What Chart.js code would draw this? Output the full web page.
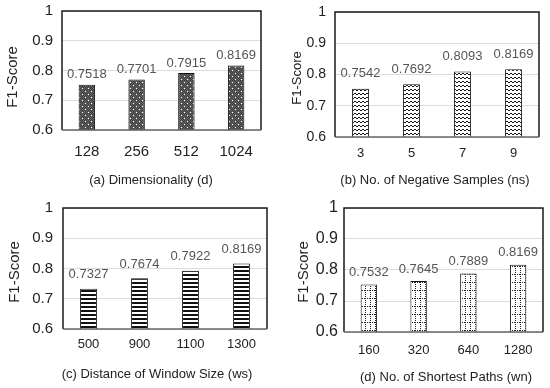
<!DOCTYPE html>
<html>
<head>
<meta charset="utf-8">
<script src="https://cdn.jsdelivr.net/npm/chart.js@4.4.1/dist/chart.umd.min.js"></script>
<style>
  body { margin: 0; background: #fff; }
  #wrap { position: relative; width: 550px; height: 388px; overflow: hidden; }
  canvas { position: absolute; }
</style>
</head>
<body>
<div id="wrap">
  <canvas id="chartA" width="275" height="194" style="left:0;top:0"></canvas>
  <canvas id="chartB" width="275" height="194" style="left:275px;top:0"></canvas>
  <canvas id="chartC" width="275" height="194" style="left:0;top:194px"></canvas>
  <canvas id="chartD" width="275" height="194" style="left:275px;top:194px"></canvas>
</div>
<script>
// data
const dimLabels = ['128', '256', '512', '1024'];
const dimScores = [0.7518, 0.7701, 0.7915, 0.8169];

const negLabels = ['3', '5', '7', '9'];
const negScores = [0.7542, 0.7692, 0.8093, 0.8169];

const winLabels = ['500', '900', '1100', '1300'];
const winScores = [0.7327, 0.7674, 0.7922, 0.8169];

const pathLabels = ['160', '320', '640', '1280'];
const pathScores = [0.7532, 0.7645, 0.7889, 0.8169];

const yTicks = [0.6, 0.7, 0.8, 0.9, 1];

const FONT = '"Liberation Sans", Arial, Helvetica, sans-serif';

// bar fill patterns
function makePattern(w, h, paint) {
  const c = document.createElement('canvas');
  c.width = w; c.height = h;
  const g = c.getContext('2d');
  paint(g);
  return g.createPattern(c, 'repeat');
}

const dotsFill = makePattern(6, 6, g => {
  g.fillStyle = '#666'; g.fillRect(0, 0, 6, 6);
  g.fillStyle = '#3c3c3c';
  for (let y = 0; y < 6; y++) for (let x = 0; x < 6; x++) if ((x + y) % 2 == 0) g.fillRect(x, y, 1, 1);
  g.fillStyle = '#fff';
  g.fillRect(1, 1, 1, 1);
  g.fillRect(4, 4, 1, 1);
});

const waveFill = makePattern(4, 4, g => {
  g.fillStyle = '#fff'; g.fillRect(0, 0, 4, 4);
  g.strokeStyle = '#111'; g.lineWidth = 1;
  g.beginPath(); g.moveTo(0, 1); g.lineTo(2, 3); g.lineTo(4, 1); g.stroke();
});

const stripeFill = makePattern(4, 4, g => {
  g.fillStyle = '#fff'; g.fillRect(0, 0, 4, 4);
  g.fillStyle = '#111'; g.fillRect(0, 0, 4, 2);
});

const gridFill = makePattern(5, 8, g => {
  g.fillStyle = '#fff'; g.fillRect(0, 0, 5, 8);
  g.fillStyle = '#222';
  for (let y = 0; y < 8; y += 2) g.fillRect(0, y, 1, 1);
  for (let x = 0; x < 5; x += 2) g.fillRect(x, 0, 1, 1);
});

const valueLabels = {
  id: 'valueLabels',
  afterDatasetsDraw(chart, args, opts) {
    const ctx = chart.ctx;
    const meta = chart.getDatasetMeta(0);
    ctx.save();
    ctx.font = '13px ' + FONT;
    ctx.fillStyle = '#555';
    ctx.textAlign = 'center';
    ctx.textBaseline = 'middle';
    meta.data.forEach((bar, i) => {
      ctx.fillText(chart.data.datasets[0].data[i].toFixed(4), bar.x, bar.y - opts.gap);
    });
    ctx.restore();
  }
};

// plot frame + captions
const frame = {
  id: 'frame',
  afterDraw(chart, args, opts) {
    const {ctx, chartArea: a} = chart;
    ctx.save();
    ctx.lineWidth = 1.5;
    ctx.strokeStyle = '#1a1a1a';
    ctx.beginPath();
    ctx.moveTo(a.left, a.bottom); ctx.lineTo(a.left, a.top);
    ctx.lineTo(a.right, a.top); ctx.lineTo(a.right, a.bottom);
    ctx.stroke();
    ctx.strokeStyle = '#666';
    ctx.beginPath(); ctx.moveTo(a.left, a.bottom); ctx.lineTo(a.right, a.bottom); ctx.stroke();

    ctx.fillStyle = '#222';
    ctx.textAlign = 'center';
    ctx.textBaseline = 'middle';
    ctx.font = '13px ' + FONT;
    ctx.fillText(opts.caption, opts.capX, opts.capY);

    ctx.translate(opts.yTitleX, opts.yTitleY);
    ctx.rotate(-Math.PI / 2);
    ctx.font = opts.yTitleSize + 'px ' + FONT;
    ctx.fillText('F1-Score', 0, 0);
    ctx.restore();
  }
};

function barChart(id, labels, values, fill, caption, lay) {
  new Chart(id, {
    type: 'bar',
    data: {
      labels: labels,
      datasets: [{
        data: values,
        backgroundColor: fill,
        borderColor: '#111',
        borderWidth: 1,
        barPercentage: 0.33,
        categoryPercentage: 1
      }]
    },
    options: {
      responsive: false,
      animation: false,
      layout: { padding: { top: lay.top, right: lay.right, left: 0, bottom: 0 } },
      plugins: {
        legend: { display: false },
        tooltip: { enabled: false },
        valueLabels: { gap: lay.gap },
        frame: { caption: caption, capX: lay.capX, capY: lay.capY, yTitleX: lay.ytX, yTitleY: lay.ytY, yTitleSize: lay.ytSize }
      },
      scales: {
        x: {
          grid: { display: false, drawTicks: false },
          border: { display: false },
          ticks: { color: '#222', font: { family: FONT, size: lay.xFont }, padding: lay.xPad },
          afterFit: s => { s.height = lay.xHeight; s.paddingLeft = 0; s.paddingRight = 0; }
        },
        y: {
          min: 0.6,
          max: 1,
          afterBuildTicks: s => { s.ticks = yTicks.map(v => ({ value: v })); },
          grid: { color: '#dcdcdc', drawTicks: false },
          border: { display: false },
          ticks: {
            color: '#222',
            font: { family: FONT, size: lay.yFont },
            padding: lay.yPad,
            callback: v => String(Math.round(v * 10) / 10)
          },
          afterFit: s => { s.width = lay.yWidth; s.paddingTop = 0; s.paddingBottom = 0; }
        }
      }
    },
    plugins: [valueLabels, frame]
  });
}

barChart('chartA', dimLabels, dimScores, dotsFill, '(a) Dimensionality (d)',
  { top: 11, right: 14, yWidth: 62, xHeight: 64, yFont: 15, yPad: 9, xFont: 15, xPad: 13,
    capX: 151, capY: 180, ytX: 13, ytY: 77, ytSize: 15, gap: 10 });
barChart('chartB', negLabels, negScores, waveFill, '(b) No. of Negative Samples (ns)',
  { top: 12, right: 11, yWidth: 60, xHeight: 57, yFont: 14, yPad: 9, xFont: 13, xPad: 9,
    capX: 160, capY: 180, ytX: 22, ytY: 78, ytSize: 13, gap: 15 });
barChart('chartC', winLabels, winScores, stripeFill, '(c) Distance of Window Size (ws)',
  { top: 14, right: 8, yWidth: 63, xHeight: 59, yFont: 15, yPad: 10, xFont: 13, xPad: 8,
    capX: 157, capY: 180, ytX: 15, ytY: 78, ytSize: 15, gap: 14 });
barChart('chartD', pathLabels, pathScores, gridFill, '(d) No. of Shortest Paths (wn)',
  { top: 14, right: 7, yWidth: 69, xHeight: 56, yFont: 16, yPad: 6, xFont: 13, xPad: 11,
    capX: 171, capY: 183, ytX: 29, ytY: 78, ytSize: 15, gap: 12 });
</script>
</body>
</html>
